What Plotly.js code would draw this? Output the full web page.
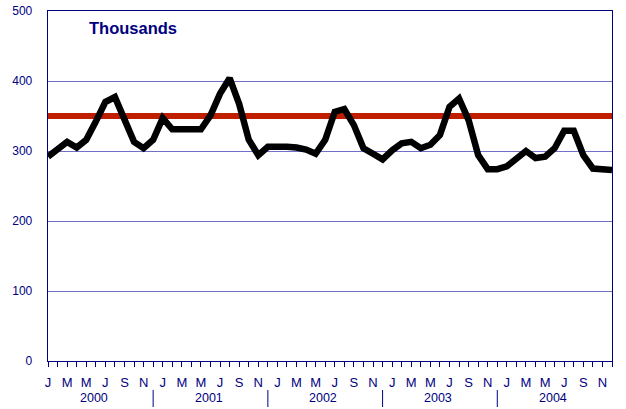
<!DOCTYPE html>
<html>
<head>
<meta charset="utf-8">
<script src="https://cdn.plot.ly/plotly-3.0.1.min.js"></script>
<style>
html,body{margin:0;padding:0;background:#fff;}
#chart{width:626px;height:409px;}
</style>
</head>
<body>
<div id="chart"></div>
<script>
// Data: monthly values (thousands), Jan 2000 - Dec 2004
const years = ["2000", "2001", "2002", "2003", "2004"];
const monthLetters = ["J","F","M","A","M","J","J","A","S","O","N","D"];
const values = [
  292, 302, 313, 305, 316, 342, 370, 377, 347, 313, 304, 316,
  347, 331, 331, 332, 331, 351, 382, 404, 367, 316, 294, 306,
  307, 306, 305, 302, 296, 316, 356, 360, 337, 304, 296, 288,
  301, 311, 313, 304, 309, 323, 363, 375, 344, 294, 274, 274,
  278, 289, 300, 290, 292, 304, 329, 329, 294, 275, 274, 273
];
const targetLevel = 350;
const yTicks = [0, 100, 200, 300, 400, 500];

const navy = "#000080";
const fontFam = "Liberation Sans, Arial";
const n = values.length;
const xIdx = values.map((_, i) => i);
const tickText = xIdx.map(i => (i % 2 === 0 ? monthLetters[i % 12] : ""));
const targetY = xIdx.map(() => targetLevel);

const traces = [
  {x: xIdx, y: targetY, mode: "lines", line: {color: "#c01e00", width: 6}, hoverinfo: "skip"},
  {x: xIdx, y: values, mode: "lines", line: {color: "#000000", width: 6.5}, hoverinfo: "skip"}
];

const annotations = years.map((yr, k) => ({
  x: k * 12 + 4.8, xref: "x", y: -(398 - 361) / 350, yref: "paper", yanchor: "middle",
  text: yr, showarrow: false, font: {family: fontFam, size: 12.5, color: navy}
}));
annotations.push({
  x: (87 - 48) / 564, xref: "paper", xanchor: "left",
  y: 1 - (28 - 11) / 350, yref: "paper", yanchor: "middle",
  text: "<b>Thousands</b>", showarrow: false,
  font: {family: fontFam, size: 16.5, color: navy}
});

const shapes = years.slice(0, -1).map((_, k) => ({
  type: "line", xref: "x", yref: "paper",
  x0: k * 12 + 11, x1: k * 12 + 11, y0: -(390 - 361) / 350, y1: -(407 - 361) / 350,
  line: {color: navy, width: 1}
}));

const layout = {
  width: 626, height: 409,
  margin: {l: 48, r: 14, t: 11, b: 48},
  paper_bgcolor: "#ffffff", plot_bgcolor: "#ffffff",
  showlegend: false,
  font: {family: fontFam, size: 12, color: navy},
  xaxis: {
    range: [0, n - 1], tickmode: "array", tickvals: xIdx, ticktext: tickText,
    ticks: "outside", ticklen: 5, tickcolor: navy, tickwidth: 1,
    showline: true, linecolor: navy, linewidth: 1.3, mirror: true,
    showgrid: false, zeroline: false, tickangle: 0,
    ticklabelstandoff: 4,
    tickfont: {family: fontFam, size: 13, color: navy}
  },
  yaxis: {
    range: [0, 500], tickmode: "array", tickvals: yTicks,
    ticks: "", showline: true, linecolor: navy, linewidth: 1.3, mirror: true,
    showgrid: true, gridcolor: "#7070c8", gridwidth: 1, zeroline: false,
    ticklabelstandoff: 12,
    tickfont: {family: fontFam, size: 12, color: navy}
  },
  annotations: annotations,
  shapes: shapes
};

Plotly.newPlot("chart", traces, layout, {staticPlot: true, displayModeBar: false});
</script>
</body>
</html>
